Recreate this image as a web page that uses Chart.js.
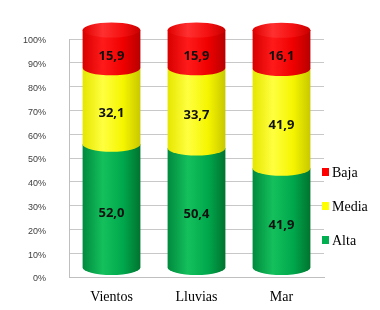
<!DOCTYPE html>
<html><head><meta charset="utf-8">
<script src="https://cdn.jsdelivr.net/npm/chart.js@4/dist/chart.umd.min.js"></script>
<style>html,body{margin:0;padding:0;background:#fff}#wrap{width:380px;height:310px;position:relative}</style>
</head><body><div id="wrap"><canvas id="c"></canvas></div>
<script>
const categories = ['Vientos', 'Lluvias', 'Mar'];
const seriesNames = ['Alta', 'Media', 'Baja'];
const alta = [52.0, 50.4, 41.9];
const media = [32.1, 33.7, 41.9];
const baja = [15.9, 15.9, 16.1];
const yTickValues = [0, 10, 20, 30, 40, 50, 60, 70, 80, 90, 100];
const seriesColors = ['#00b050', '#ffff00', '#ff0000'];
const palettes = [
  ['#008a3e', '#14c05c', '#00a84c', '#00742f'],
  ['#e6e600', '#ffff40', '#f5f500', '#c8c800'],
  ['#d80000', '#ff1a1a', '#f00000', '#b80000']
];
const capPalette = ['#e00000', '#ff3030', '#f41010', '#c80000'];

const DEPTH = 9, RY = 7.5;

function grad(ctx, l, r, pal) {
  const g = ctx.createLinearGradient(l, 0, r, 0);
  g.addColorStop(0, pal[0]); g.addColorStop(0.35, pal[1]);
  g.addColorStop(0.7, pal[2]); g.addColorStop(1, pal[3]);
  return g;
}

const cylinderPlugin = {
  id: 'cyl',
  afterDatasetsDraw(chart) {
    const ctx = chart.ctx;
    const n = chart.data.datasets.length;
    for (let di = 0; di < n; di++) {
      const meta = chart.getDatasetMeta(di);
      meta.data.forEach(bar => {
        const p = bar.getProps(['x', 'y', 'base', 'width'], true);
        const top = p.y - DEPTH, bot = p.base - DEPTH;
        const rx = p.width / 2, l = p.x - rx, r = p.x + rx;
        ctx.save();
        ctx.beginPath();
        ctx.moveTo(r, top);
        ctx.lineTo(l, top);
        ctx.lineTo(l, bot);
        ctx.ellipse(p.x, bot, rx, RY, 0, Math.PI, 0, true);
        ctx.closePath();
        ctx.fillStyle = grad(ctx, l, r, palettes[di]);
        ctx.fill();
        if (di === n - 1) {
          ctx.beginPath();
          ctx.ellipse(p.x, top, rx, RY, 0, 0, Math.PI * 2);
          ctx.fillStyle = grad(ctx, l, r, capPalette);
          ctx.fill();
        }
        ctx.restore();
      });
    }
    ctx.save();
    ctx.font = 'bold 13px "Open Sans", "Liberation Sans", sans-serif';
    ctx.fillStyle = '#111';
    ctx.textAlign = 'center';
    ctx.textBaseline = 'middle';
    for (let di = 0; di < n; di++) {
      const meta = chart.getDatasetMeta(di);
      const vals = chart.data.datasets[di].data;
      meta.data.forEach((bar, i) => {
        const p = bar.getProps(['x', 'y', 'base'], true);
        const cy = (p.y + p.base) / 2 - DEPTH + 7;
        ctx.fillText(vals[i].toFixed(1).replace('.', ','), p.x, cy);
      });
    }
    ctx.restore();
  },
  afterDraw(chart) {
    const ctx = chart.ctx;
    ctx.save();
    ctx.font = '14px "Liberation Serif", "Times New Roman", serif';
    ctx.textBaseline = 'middle';
    ctx.textAlign = 'left';
    const ds = chart.data.datasets;
    const order = ds.map((d, i) => i).reverse();
    order.forEach((di, k) => {
      const cy = 172 + k * 34;
      ctx.fillStyle = seriesColors[di];
      ctx.fillRect(322, cy - 4, 7, 8);
      ctx.fillStyle = '#000';
      ctx.fillText(ds[di].label, 332, cy + 1);
    });
    ctx.restore();
  }
};

new Chart(document.getElementById('c'), {
  type: 'bar',
  data: {
    labels: categories,
    datasets: [
      { label: seriesNames[0], data: alta, backgroundColor: 'rgba(0,0,0,0)' },
      { label: seriesNames[1], data: media, backgroundColor: 'rgba(0,0,0,0)' },
      { label: seriesNames[2], data: baja, backgroundColor: 'rgba(0,0,0,0)' }
    ]
  },
  options: {
    responsive: true,
    maintainAspectRatio: false,
    animation: false,
    layout: { padding: { top: 39, bottom: 4, left: 22, right: 56 } },
    datasets: { bar: { barPercentage: 0.68, categoryPercentage: 1.0 } },
    plugins: { legend: { display: false }, tooltip: { enabled: false } },
    scales: {
      x: {
        stacked: true,
        afterFit(scale) { scale.height = 29; },
        grid: { display: false, drawTicks: false },
        border: { display: true, color: '#bfbfbf' },
        ticks: { color: '#000', padding: 12, font: { family: '"Liberation Serif", "Times New Roman", serif', size: 14 } }
      },
      y: {
        stacked: true,
        min: 0, max: 100,
        afterFit(scale) { scale.width = 47; },
        afterBuildTicks(axis) { axis.ticks = yTickValues.map(v => ({ value: v })); },
        grid: { color: '#c8c8c8', drawTicks: false },
        border: { display: true, color: '#bfbfbf' },
        ticks: {
          color: '#404040', padding: 23, labelOffset: 2,
          font: { family: '"Liberation Sans", Arial, sans-serif', size: 9 },
          callback: v => v + '%'
        }
      }
    }
  },
  plugins: [cylinderPlugin]
});
</script>
</body></html>
